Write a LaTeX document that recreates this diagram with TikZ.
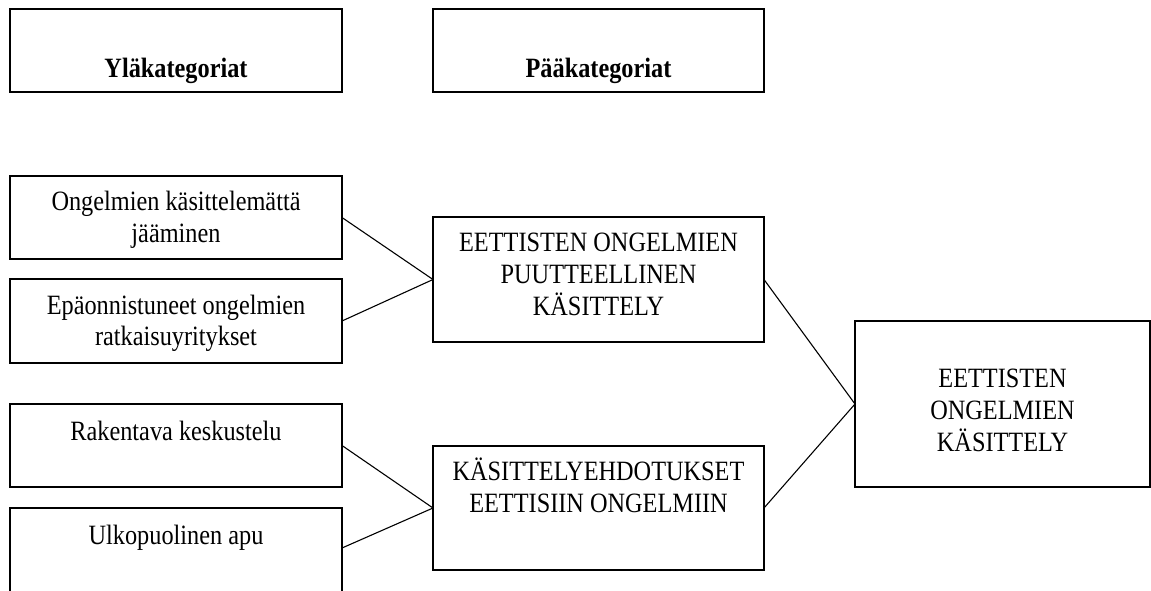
\documentclass[tikz,border=0pt]{standalone}
\usepackage{graphicx}
\usepackage{fontspec}
\setmainfont{Liberation Serif}
% centred multi-line text, set slightly tall, whose baseline is that of its first line
\newcommand{\stacked}[1]{\scalebox{1}[1.15]{\begin{tabular}[t]{@{}c@{}}#1\end{tabular}}}
\begin{document}
\begin{tikzpicture}[x=1pt,y=-1pt,
  every node/.style={font=\fontsize{24.3}{27.8}\selectfont, inner sep=0pt, outer sep=0pt},
  box/.style={draw, line width=1.1pt, anchor=north west, minimum width=332pt},
  txt/.style={anchor=base, align=center},
  headtxt/.style={txt, font=\fontsize{24.3}{27.8}\selectfont\bfseries},
  link/.style={line width=1.1pt}]
\useasboundingbox (0,0) rectangle (1151,590);
\clip (0,0) rectangle (1151,590);

% heading boxes
\node[box, minimum height=83pt] (yla) at (10,9) {};
\node[box, minimum width=331pt, minimum height=83pt] (paa) at (433,9) {};
\node[headtxt] (ylat) at (176,77.3) {\stacked{Yläkategoriat}};
\node[headtxt] (paat) at (598.5,77.3) {\stacked{Pääkategoriat}};

% upper categories
\node[box, minimum height=83pt] (l1) at (10,176) {};
\node[box, minimum height=84pt] (l2) at (10,279) {};
\node[box, minimum height=83pt] (l3) at (10,404) {};
\node[box, minimum height=100pt] (l4) at (10,508) {};
\node[txt] (l1t) at (176,210.5) {\stacked{Ongelmien käsittelemättä\\jääminen}};
\node[txt] (l2t) at (176,314) {\stacked{Epäonnistuneet ongelmien\\ratkaisuyritykset}};
\node[txt] (l3t) at (176,440) {\stacked{Rakentava keskustelu}};
\node[txt] (l4t) at (176,544) {\stacked{Ulkopuolinen apu}};

% main categories
\node[box, minimum width=331pt, minimum height=125pt] (m1) at (433,217) {};
\node[box, minimum width=331pt, minimum height=124pt] (m2) at (433,446) {};
\node[txt] (m1t) at (598.5,251.7) {\stacked{EETTISTEN ONGELMIEN\\PUUTTEELLINEN\\KÄSITTELY}};
\node[txt] (m2t) at (598.5,480.7) {\stacked{KÄSITTELYEHDOTUKSET\\EETTISIIN ONGELMIIN}};

% core category
\node[box, minimum width=295pt, minimum height=166pt] (r) at (855,321) {};
\node[txt] (rt) at (1002.5,387.3) {\stacked{EETTISTEN\\ONGELMIEN\\KÄSITTELY}};

% connectors
\coordinate (l4out) at ([yshift=-40pt]l4.north east);
\draw[link] (l1.east) -- (m1.west);
\draw[link] (l2.east) -- (m1.west);
\draw[link] (l3.east) -- (m2.west);
\draw[link] (l4out) -- (m2.west);
\draw[link] (m1.east) -- (r.west);
\draw[link] (m2.east) -- (r.west);
\end{tikzpicture}
\end{document}
